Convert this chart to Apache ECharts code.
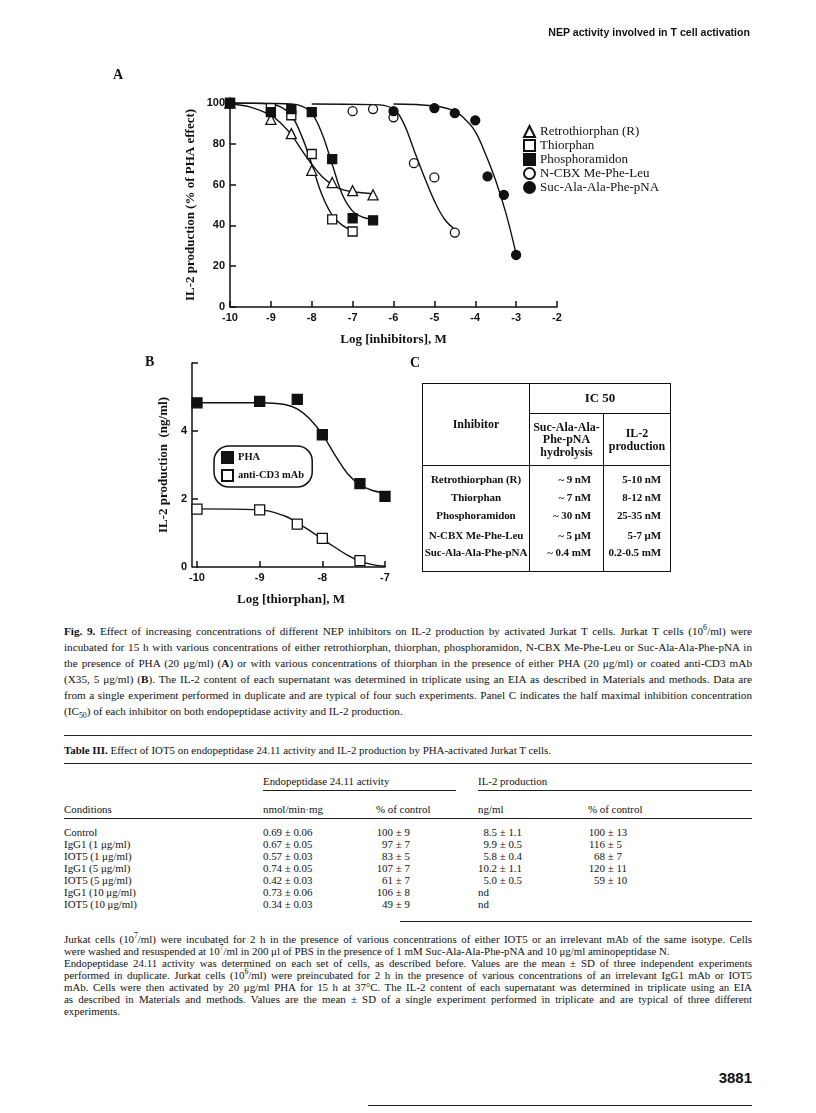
<!DOCTYPE html>
<html>
<head>
<meta charset="utf-8">
<script src="https://cdn.jsdelivr.net/npm/echarts@6/dist/echarts.min.js"></script>
<style>
body { margin: 0; background: #fff; }
#page { position: relative; width: 816px; height: 1113px; overflow: hidden; color: #111;
  font-family: "Liberation Serif", "Times New Roman", serif; }
#chart { position: absolute; left: 0; top: 0; width: 816px; height: 610px; }
.abs { position: absolute; white-space: nowrap; }
.panel { font-weight: bold; font-size: 14px; }
.rule { position: absolute; height: 0; border-top: 1px solid #222; }
#caption { position: absolute; left: 64px; top: 623px; width: 688px; font-size: 11.2px; line-height: 16px; }
#caption div, #foot div { white-space: nowrap; text-align: justify; text-align-last: justify; }
#caption div.last, #foot div.last { text-align-last: left; }
#foot { position: absolute; left: 64px; top: 933px; width: 688px; font-size: 10.9px; line-height: 12px; }
#tc { position: absolute; left: 422px; top: 383px; border-collapse: collapse;
  font-weight: bold; font-size: 12px; line-height: 12.5px; }
#tc td { border: 1.5px solid #111; padding: 0; text-align: center; vertical-align: middle; }
#tc td.body { vertical-align: top; padding-top: 7px; font-size: 11px; white-space: nowrap; letter-spacing: -0.1px; }
#t3 { position: absolute; left: 0; top: 0; font-size: 10.9px; }
sup, sub { font-size: 70%; line-height: 0; }
.l { display: inline-block; text-align: right; }
</style>
</head>
<body>
<div id="page">
  <div id="chart"></div>

  <div class="abs" style="right:66px;top:26px;font-family:'Liberation Sans',Arial,sans-serif;font-weight:bold;font-size:10.6px;">NEP activity involved in T cell activation</div>
  <div class="abs panel" style="left:113px;top:67px;">A</div>
  <div class="abs panel" style="left:145px;top:354px;">B</div>
  <div class="abs panel" style="left:410px;top:355px;">C</div>

  <table id="tc"></table>

  <div id="caption"></div>
  <div id="t3"></div>
  <div id="foot"></div>

  <div class="abs" style="right:64px;top:1069px;font-family:'Liberation Sans',Arial,sans-serif;font-weight:bold;font-size:15px;">3881</div>
  <div class="rule" style="left:368px;width:384px;top:1105px;border-top-width:1.5px;"></div>
</div>

<script>
// ---- panel A: measured points (log M, % of PHA effect)
var retroPts = [[-10, 100], [-9, 92], [-8.5, 85], [-8, 67], [-7.5, 61], [-7, 57], [-6.5, 55]];
var thioPts = [[-10, 100], [-9, 97.5], [-8.5, 94], [-8, 75], [-7.5, 43], [-7, 37]];
var phosPts = [[-10, 100], [-9, 95.5], [-8.5, 97], [-8, 95.5], [-7.5, 72.5], [-7, 43.5], [-6.5, 42.5]];
var cbxPts = [[-7, 96], [-6.5, 97], [-6, 93], [-5.5, 70.5], [-5, 63.5], [-4.5, 36.5]];
var sucPts = [[-6, 96], [-5, 97.5], [-4.5, 95], [-4, 91.5], [-3.7, 64], [-3.3, 55], [-3, 25.5]];

// ---- panel A: fitted curves as drawn
var retroFit = [[-10, 99.5], [-9.5, 98], [-9, 94], [-8.75, 90], [-8.5, 84.5], [-8.25, 77], [-8, 70], [-7.75, 64], [-7.5, 60], [-7.25, 57.5], [-7, 56.5], [-6.5, 55.5]];
var thioFit = [[-10, 100], [-9, 99.5], [-8.75, 98], [-8.5, 94], [-8.25, 84], [-8, 70], [-7.75, 55], [-7.5, 45], [-7.25, 40], [-7, 37.5]];
var phosFit = [[-10, 100], [-8.5, 99.5], [-8.25, 98.5], [-8, 95], [-7.75, 85], [-7.5, 70], [-7.25, 55], [-7, 47], [-6.75, 44], [-6.5, 43]];
var cbxFit = [[-8, 99.5], [-6.5, 99.2], [-6, 97], [-5.75, 90], [-5.5, 77], [-5.25, 64], [-5, 52], [-4.75, 43], [-4.5, 38]];
var sucFit = [[-6, 99.5], [-5, 98.5], [-4.5, 96], [-4.25, 92], [-4, 86], [-3.75, 75], [-3.5, 62], [-3.25, 46], [-3, 26]];

// ---- panel B: thiorphan (log M, ng/ml)
var phaPts = [[-10, 4.83], [-9, 4.87], [-8.4, 4.93], [-8, 3.89], [-7.4, 2.45], [-7, 2.08]];
var cd3Pts = [[-10, 1.70], [-9, 1.68], [-8.4, 1.26], [-8, 0.84], [-7.4, 0.19]];
var phaFit = [[-10, 4.83], [-9, 4.83], [-8.6, 4.78], [-8.4, 4.65], [-8.2, 4.35], [-8, 3.9], [-7.8, 3.3], [-7.6, 2.75], [-7.4, 2.42], [-7.2, 2.25], [-7, 2.18]];
var cd3Fit = [[-10, 1.71], [-9, 1.68], [-8.6, 1.5], [-8.4, 1.3], [-8.2, 1.07], [-8, 0.82], [-7.8, 0.58], [-7.6, 0.35], [-7.4, 0.17], [-7.2, 0.07], [-7, 0.02]];

// ---- panel C
var tcInhibitors = ['Retrothiorphan (R)', 'Thiorphan', 'Phosphoramidon', 'N-CBX Me-Phe-Leu', 'Suc-Ala-Ala-Phe-pNA'];
var tcHydrolysis = ['~ 9 nM', '~ 7 nM', '~ 30 nM', '~ 5 \u03bcM', '~ 0.4 mM'];
var tcIL2 = ['5-10 nM', '8-12 nM', '25-35 nM', '5-7 \u03bcM', '0.2-0.5 mM'];

// ---- Table III
var t3Conditions = ['Control', 'IgG1 (1 \u03bcg/ml)', 'IOT5 (1 \u03bcg/ml)', 'IgG1 (5 \u03bcg/ml)', 'IOT5 (5 \u03bcg/ml)', 'IgG1 (10 \u03bcg/ml)', 'IOT5 (10 \u03bcg/ml)'];
var t3Nmol = ['0.69 \u00b1 0.06', '0.67 \u00b1 0.05', '0.57 \u00b1 0.03', '0.74 \u00b1 0.05', '0.42 \u00b1 0.03', '0.73 \u00b1 0.06', '0.34 \u00b1 0.03'];
var t3EndoPct = ['100 \u00b1 9', '97 \u00b1 7', '83 \u00b1 5', '107 \u00b1 7', '61 \u00b1 7', '106 \u00b1 8', '49 \u00b1 9'];
var t3Ngml = ['8.5 \u00b1 1.1', '9.9 \u00b1 0.5', '5.8 \u00b1 0.4', '10.2 \u00b1 1.1', '5.0 \u00b1 0.5', 'nd', 'nd'];
var t3IL2Pct = ['100 \u00b1 13', '116 \u00b1 5', '68 \u00b1 7', '120 \u00b1 11', '59 \u00b1 10', '', ''];

var serif = '"Liberation Serif","Times New Roman",serif';
var sans = '"Liberation Sans",Arial,sans-serif';
var ink = '#111';

function xAx(grid, min, max, name) {
  return {
    gridIndex: grid, type: 'value', min: min, max: max, interval: 1,
    name: name, nameLocation: 'middle', nameGap: 26,
    nameTextStyle: { fontFamily: serif, fontWeight: 'bold', fontSize: 13, color: ink },
    axisLine: { show: true, onZero: false, lineStyle: { color: ink, width: 1.5 } },
    axisTick: { show: true, inside: true, length: 6, lineStyle: { color: ink, width: 1.5 } },
    axisLabel: { fontFamily: sans, fontWeight: 'bold', fontSize: 11, color: ink, margin: 5 },
    splitLine: { show: false }
  };
}
function yAx(grid, max, interval, name, gap) {
  return {
    gridIndex: grid, type: 'value', min: 0, max: max, interval: interval,
    name: name, nameLocation: 'middle', nameGap: gap,
    nameTextStyle: { fontFamily: serif, fontWeight: 'bold', fontSize: 13, color: ink },
    axisLine: { show: true, onZero: false, lineStyle: { color: ink, width: 1.5 } },
    axisTick: { show: true, inside: true, length: 6, lineStyle: { color: ink, width: 1.5 } },
    axisLabel: { fontFamily: sans, fontWeight: 'bold', fontSize: 11, color: ink, margin: 5 },
    splitLine: { show: false }
  };
}
function curve(data, grid) {
  return { type: 'line', data: data, xAxisIndex: grid, yAxisIndex: grid, smooth: 0.4, showSymbol: false,
    silent: true, z: 2, lineStyle: { color: ink, width: 1.4 } };
}
function pts(name, data, grid, symbol, filled, size) {
  return { type: 'scatter', name: name, data: data, xAxisIndex: grid, yAxisIndex: grid,
    symbol: symbol, symbolSize: size || 9, z: 3,
    itemStyle: { color: filled ? ink : '#fff', borderColor: ink, borderWidth: 1.3, opacity: 1 } };
}

var yB = yAx(1, 6, 2, 'IL-2 production  (ng/ml)', 22);
yB.offset = 5;
yB.axisLabel.formatter = function (v) { return v === 6 ? '' : v; };

var chart = echarts.init(document.getElementById('chart'));
chart.setOption({
  animation: false,
  grid: [
    { left: 230, top: 103, width: 327, height: 204 },
    { left: 197, top: 363, width: 188, height: 204 }
  ],
  xAxis: [xAx(0, -10, -2, 'Log [inhibitors], M'), xAx(1, -10, -7, 'Log [thiorphan], M')],
  yAxis: [yAx(0, 100, 20, 'IL-2 production (% of PHA effect)', 33), yB],
  legend: [
    { data: tcInhibitors, orient: 'vertical', left: 523, top: 125, padding: 0, itemGap: 1,
      itemWidth: 11, itemHeight: 11, selectedMode: false,
      textStyle: { fontFamily: serif, fontSize: 13, lineHeight: 13, color: ink } },
    { data: ['PHA', 'anti-CD3 mAb'], orient: 'vertical', left: 214, top: 446, padding: [5, 8, 5, 7],
      itemGap: 5, itemWidth: 11, itemHeight: 11, selectedMode: false,
      borderColor: ink, borderWidth: 1.5, borderRadius: 15,
      textStyle: { fontFamily: serif, fontWeight: 'bold', fontSize: 10.5, color: ink } }
  ],
  series: [
    curve(retroFit, 0), curve(thioFit, 0), curve(phosFit, 0), curve(cbxFit, 0), curve(sucFit, 0),
    pts(tcInhibitors[0], retroPts, 0, 'triangle', false, 10),
    pts(tcInhibitors[1], thioPts, 0, 'rect', false),
    pts(tcInhibitors[2], phosPts, 0, 'rect', true),
    pts(tcInhibitors[3], cbxPts, 0, 'circle', false),
    pts(tcInhibitors[4], sucPts, 0, 'circle', true),
    curve(phaFit, 1), curve(cd3Fit, 1),
    pts('PHA', phaPts, 1, 'rect', true, 10),
    pts('anti-CD3 mAb', cd3Pts, 1, 'rect', false, 10)
  ]
});

// ---- table C
var tc = document.getElementById('tc');
var rowH = [18, 18, 20, 17, 18];
function stack(arr) {
  return arr.map(function (s, i) { return '<div style="height:' + rowH[i] + 'px">' + s + '</div>'; }).join('');
}
tc.innerHTML =
  '<tr style="height:30px"><td rowspan="2" style="width:106px">Inhibitor</td><td colspan="2" style="font-size:13px">IC 50</td></tr>' +
  '<tr style="height:52px"><td style="width:73px">Suc-Ala-Ala-<br>Phe-pNA<br>hydrolysis</td><td style="width:66px">IL-2<br>production</td></tr>' +
  '<tr style="height:106px"><td class="body">' + stack(tcInhibitors) + '</td>' +
  '<td class="body" style="text-align:right;padding-right:12px">' + stack(tcHydrolysis) + '</td>' +
  '<td class="body" style="text-align:right;padding-right:9px">' + stack(tcIL2) + '</td></tr>';

// ---- caption
var capLines = [
  '<b>Fig. 9.</b> Effect of increasing concentrations of different NEP inhibitors on IL-2 production by activated Jurkat T cells. Jurkat T cells (10<sup>6</sup>/ml) were',
  'incubated for 15 h with various concentrations of either retrothiorphan, thiorphan, phosphoramidon, N-CBX Me-Phe-Leu or Suc-Ala-Ala-Phe-pNA in',
  'the presence of PHA (20 \u03bcg/ml) (<b>A</b>) or with various concentrations of thiorphan in the presence of either PHA (20 \u03bcg/ml) or coated anti-CD3 mAb',
  '(X35, 5 \u03bcg/ml) (<b>B</b>). The IL-2 content of each supernatant was determined in triplicate using an EIA as described in Materials and methods. Data are',
  'from a single experiment performed in duplicate and are typical of four such experiments. Panel C indicates the half maximal inhibition concentration',
  '(IC<sub>50</sub>) of each inhibitor on both endopeptidase activity and IL-2 production.'
];
document.getElementById('caption').innerHTML = capLines.map(function (s, i) {
  return '<div' + (i === capLines.length - 1 ? ' class="last"' : '') + '>' + s + '</div>';
}).join('');

var footLines = [
  'Jurkat cells (10<sup>7</sup>/ml) were incubated for 2 h in the presence of various concentrations of either IOT5 or an irrelevant mAb of the same isotype. Cells',
  'were washed and resuspended at 10<sup>7</sup>/ml in 200 \u03bcl of PBS in the presence of 1 mM Suc-Ala-Ala-Phe-pNA and 10 \u03bcg/ml aminopeptidase N.',
  'Endopeptidase 24.11 activity was determined on each set of cells, as described before. Values are the mean \u00b1 SD of three independent experiments',
  'performed in duplicate. Jurkat cells (10<sup>6</sup>/ml) were preincubated for 2 h in the presence of various concentrations of an irrelevant IgG1 mAb or IOT5',
  'mAb. Cells were then activated by 20 \u03bcg/ml PHA for 15 h at 37\u00b0C. The IL-2 content of each supernatant was determined in triplicate using an EIA',
  'as described in Materials and methods. Values are the mean \u00b1 SD of a single experiment performed in triplicate and are typical of three different',
  'experiments.'
];
document.getElementById('foot').innerHTML = footLines.map(function (s, i) {
  return '<div' + (i === 1 || i === footLines.length - 1 ? ' class="last"' : '') + '>' + s + '</div>';
}).join('');

// ---- Table III
var t3 = document.getElementById('t3');
var html = '';
function txt(x, y, s) { html += '<div class="abs" style="left:' + x + 'px;top:' + (y - 7) + 'px">' + s + '</div>'; }
function rule(x1, x2, y, w) { html += '<div class="rule" style="left:' + x1 + 'px;width:' + (x2 - x1) + 'px;top:' + y + 'px;border-top-width:' + (w || 1) + 'px"></div>'; }
function pm(s, w) {
  var k = s.indexOf(' \u00b1');
  if (k < 0) return s;
  return '<span class="l" style="width:' + w + 'px">' + s.slice(0, k) + '</span>' + s.slice(k);
}
rule(64, 752, 735, 1.5);
txt(64, 751, '<b>Table III.</b> Effect of IOT5 on endopeptidase 24.11 activity and IL-2 production by PHA-activated Jurkat T cells.');
rule(64, 752, 763);
txt(263, 782, 'Endopeptidase 24.11 activity');
txt(478, 782, 'IL-2 production');
rule(263, 456, 790);
rule(478, 752, 790);
txt(64, 810, 'Conditions');
txt(263, 810, 'nmol/min\u00b7mg');
txt(376, 810, '% of control');
txt(478, 810, 'ng/ml');
txt(588, 810, '% of control');
rule(64, 752, 818);
t3Conditions.forEach(function (c, i) {
  var y = 833 + 12 * i;
  txt(64, y, c);
  txt(263, y, pm(t3Nmol[i], 19));
  txt(376, y, pm(t3EndoPct[i], 17));
  txt(478, y, pm(t3Ngml[i], 19));
  txt(588, y, pm(t3IL2Pct[i], 17));
});
rule(400, 752, 921);
t3.innerHTML = html;
</script>
</body>
</html>
